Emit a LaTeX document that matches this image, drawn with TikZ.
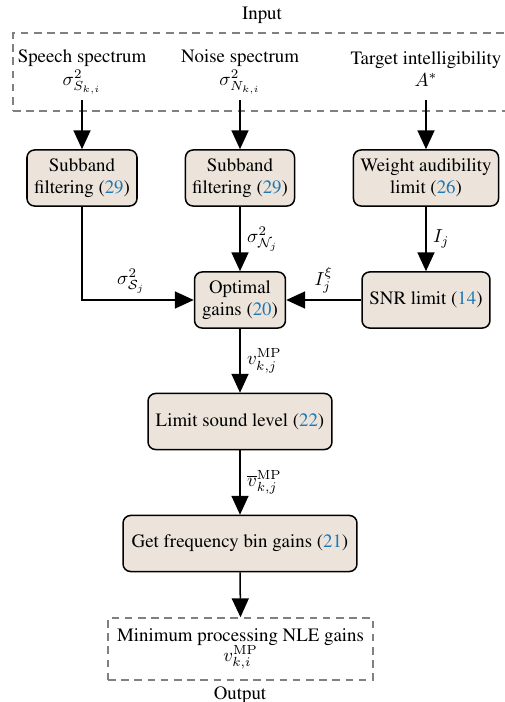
\documentclass[tikz,border=0pt]{standalone}
\usepackage[T1]{fontenc}
\usepackage{times}
\usetikzlibrary{arrows.meta,positioning}
\definecolor{boxfill}{RGB}{236,228,218}
\definecolor{citeblue}{RGB}{31,119,180}
\newcommand{\eqr}[1]{({\color{citeblue}#1})}

\begin{document}
\begin{tikzpicture}
  [
    x=0.53pt, y=-0.53pt,
    font=\fontsize{10}{11.8}\selectfont,
    blk/.style =
      {draw, thick, fill=boxfill, rounded corners=4pt, align=center,
       minimum height=29.7pt, inner sep=2pt},
    spec/.style =
      {align=center, inner sep=0pt, minimum height=29.7pt},
    dbox/.style =
      {draw=gray, dash pattern=on 4pt off 3pt, thick},
    arr/.style = {-{Triangle[length=10pt,width=9pt]}, thick}
  ]
  \useasboundingbox (0,0) rectangle (505,702);

  \node [dbox, minimum width=263.4pt, minimum height=41.3pt] (inbox) at (261.5,72) {};
  \node (inlabel) at (262,15) {Input};
  \node [spec] (sspec) at (82,72) {Speech spectrum\\ $\sigma^2_{S_{k,i}}$};
  \node [spec] (nspec) at (240,72) {Noise spectrum\\ $\sigma^2_{N_{k,i}}$};
  \node [spec] (target) at (426,69) {Target intelligibility\\ $A^*$};
  \coordinate (tstart) at (426,100);

  \node [blk, minimum width=58.3pt] (sub1) at (82,178) {Subband\\ filtering \eqr{29}};
  \node [blk, minimum width=57.8pt] (sub2) at (240,178) {Subband\\ filtering \eqr{29}};
  \node [blk, minimum width=76.9pt] (weight) at (426,178) {Weight audibility\\ limit \eqr{26}};
  \node [blk, minimum width=48.2pt] (opt) at (240,300) {Optimal\\ gains \eqr{20}};
  \node [blk, minimum width=67.8pt] (snr) at (426,300) {SNR limit \eqr{14}};
  \node [blk, minimum width=97.5pt] (limit) at (240,421.5) {Limit sound level \eqr{22}};
  \node [blk, minimum width=124pt] (getbin) at (240,543.5) {Get frequency bin gains \eqr{21}};

  \node [dbox, minimum width=140.5pt, minimum height=32.9pt, align=center, inner sep=1pt] (outbox) at (240.5,649)
    {Minimum processing NLE gains\\[-1pt] $v_{k,i}^{\mathrm{MP}}$};
  \node (outlabel) at (240,695) {Output};

  \draw [arr] (sspec.south) -- (sub1.north);
  \draw [arr] (nspec.south) -- (sub2.north);
  \draw [arr] (tstart) -- (weight.north);

  \draw [arr] (sub1.south) |- node [above, pos=0.72] {$\sigma^2_{\mathcal{S}_j}$} (opt.west);
  \draw [arr] (sub2.south) -- node [right] {$\sigma^2_{\mathcal{N}_j}$} (opt.north);
  \draw [arr] (weight.south) -- node [right] {$I_j$} (snr.north);
  \draw [arr] (snr.west) -- node [above] {$I_j^{\xi}$} (opt.east);
  \draw [arr] (opt.south) -- node [right] {$v_{k,j}^{\mathrm{MP}}$} (limit.north);
  \draw [arr] (limit.south) -- node [right] {$\overline{v}_{k,j}^{\mathrm{MP}}$} (getbin.north);
  \draw [arr] (getbin.south) -- (outbox.north);

\end{tikzpicture}
\end{document}
